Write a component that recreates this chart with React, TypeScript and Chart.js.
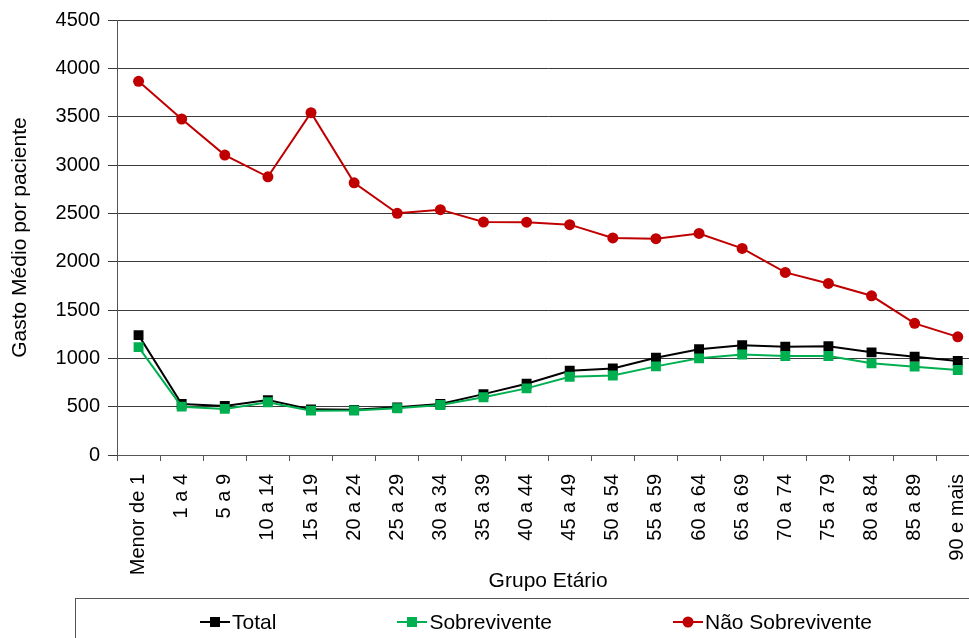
import React, { useEffect, useRef } from "react";
import { Chart, registerables } from "chart.js";

Chart.register(...registerables);

// Faixas etárias (eixo X)
const grupos = [
  "Menor de 1", "1 a 4", "5 a 9", "10 a 14", "15 a 19", "20 a 24", "25 a 29",
  "30 a 34", "35 a 39", "40 a 44", "45 a 49", "50 a 54", "55 a 59", "60 a 64",
  "65 a 69", "70 a 74", "75 a 79", "80 a 84", "85 a 89", "90 e mais",
];

// Gasto médio por paciente em cada faixa
const total = [1240, 528, 507, 568, 472, 467, 493, 527, 630, 737, 871, 895, 1007, 1095, 1136, 1120, 1126, 1062, 1016, 972];
const sobrevivente = [1116, 500, 477, 545, 459, 460, 483, 518, 597, 689, 810, 822, 917, 1000, 1040, 1024, 1024, 948, 914, 879];
const naoSobrevivente = [3866, 3476, 3103, 2878, 3541, 2816, 2500, 2538, 2410, 2408, 2383, 2245, 2238, 2292, 2137, 1889, 1775, 1647, 1362, 1222];

// Eixo Y
const yMin = 0;
const yMax = 4500;
const yStep = 500;

const FONT = "'Liberation Sans', Arial, sans-serif";
const COR_TOTAL = "#000000";
const COR_SOBREV = "#00B050";
const COR_NAO = "#C00000";
const COR_EIXO = "#555555";
const COR_GRADE = "#3a3a3a";

type Marker = "rect" | "circle";

function LegendItem({ color, marker, label }: { color: string; marker: Marker; label: string }) {
  return (
    <div style={{ display: "flex", alignItems: "center" }}>
      <svg width="30" height="14" style={{ display: "block" }}>
        <line x1="0" y1="7" x2="30" y2="7" stroke={color} strokeWidth="2" />
        {marker === "rect" ? (
          <rect x="10" y="2" width="10" height="10" fill={color} />
        ) : (
          <circle cx="15" cy="7" r="5.5" fill={color} />
        )}
      </svg>
      <span style={{ marginLeft: 2 }}>{label}</span>
    </div>
  );
}

export default function App() {
  const canvasRef = useRef<HTMLCanvasElement | null>(null);

  useEffect(() => {
    const canvas = canvasRef.current;
    if (!canvas) return;

    const chart = new Chart(canvas, {
      type: "line",
      data: {
        labels: grupos,
        datasets: [
          {
            label: "Total",
            data: total,
            borderColor: COR_TOTAL,
            backgroundColor: COR_TOTAL,
            pointBackgroundColor: COR_TOTAL,
            pointBorderColor: COR_TOTAL,
            pointStyle: "rect",
            pointRadius: 7,
            pointBorderWidth: 0,
            borderWidth: 2,
            tension: 0,
            order: 3,
          },
          {
            label: "Sobrevivente",
            data: sobrevivente,
            borderColor: COR_SOBREV,
            backgroundColor: COR_SOBREV,
            pointBackgroundColor: COR_SOBREV,
            pointBorderColor: COR_SOBREV,
            pointStyle: "rect",
            pointRadius: 7,
            pointBorderWidth: 0,
            borderWidth: 2,
            tension: 0,
            order: 2,
          },
          {
            label: "Não Sobrevivente",
            data: naoSobrevivente,
            borderColor: COR_NAO,
            backgroundColor: COR_NAO,
            pointBackgroundColor: COR_NAO,
            pointBorderColor: COR_NAO,
            pointStyle: "circle",
            pointRadius: 5.5,
            pointBorderWidth: 0,
            borderWidth: 2,
            tension: 0,
            order: 1,
          },
        ],
      },
      options: {
        animation: false,
        responsive: false,
        events: [],
        layout: { padding: { left: 0, right: 10, top: 20, bottom: 43 } },
        plugins: {
          legend: { display: false },
          tooltip: { enabled: false },
        },
        scales: {
          x: {
            type: "category",
            offset: true,
            grid: {
              offset: true,
              drawOnChartArea: false,
              drawTicks: true,
              tickLength: 6,
              color: COR_EIXO,
            },
            border: { color: COR_EIXO, width: 1 },
            ticks: {
              autoSkip: false,
              minRotation: 90,
              maxRotation: 90,
              padding: 13,
              color: "#000",
              font: { family: FONT, size: 20 },
            },
            title: {
              display: true,
              text: "Grupo Etário",
              color: "#000",
              font: { family: FONT, size: 21 },
              padding: { top: 0, bottom: 1 },
            },
            afterFit: (s: any) => {
              s.height = 140;
            },
          },
          y: {
            min: yMin,
            max: yMax,
            ticks: {
              stepSize: yStep,
              padding: 8,
              color: "#000",
              font: { family: FONT, size: 20 },
              callback: (v: any) => String(v),
            },
            grid: { color: COR_GRADE, tickLength: 9, lineWidth: 1 },
            border: { color: COR_EIXO, width: 1 },
            title: {
              display: true,
              text: "Gasto Médio por paciente",
              color: "#000",
              font: { family: FONT, size: 21 },
              padding: { top: 8, bottom: 0 },
            },
            afterFit: (s: any) => {
              s.width = 117;
            },
          },
        },
      },
    });

    return () => chart.destroy();
  }, []);

  return (
    <div
      style={{
        position: "fixed",
        left: 0,
        top: 0,
        width: 969,
        height: 638,
        overflow: "hidden",
        background: "#fff",
        fontFamily: FONT,
      }}
    >
      <canvas ref={canvasRef} width={995} height={638} style={{ display: "block" }} />
      <div
        style={{
          position: "absolute",
          left: 75,
          top: 598,
          width: 918,
          height: 60,
          border: `1px solid ${COR_EIXO}`,
          boxSizing: "border-box",
          display: "flex",
          justifyContent: "center",
          alignItems: "flex-start",
          gap: 121,
          paddingTop: 11,
          paddingLeft: 4,
          fontSize: 21,
          lineHeight: "24px",
          color: "#000",
        }}
      >
        <LegendItem color={COR_TOTAL} marker="rect" label="Total" />
        <LegendItem color={COR_SOBREV} marker="rect" label="Sobrevivente" />
        <LegendItem color={COR_NAO} marker="circle" label="Não Sobrevivente" />
      </div>
    </div>
  );
}
